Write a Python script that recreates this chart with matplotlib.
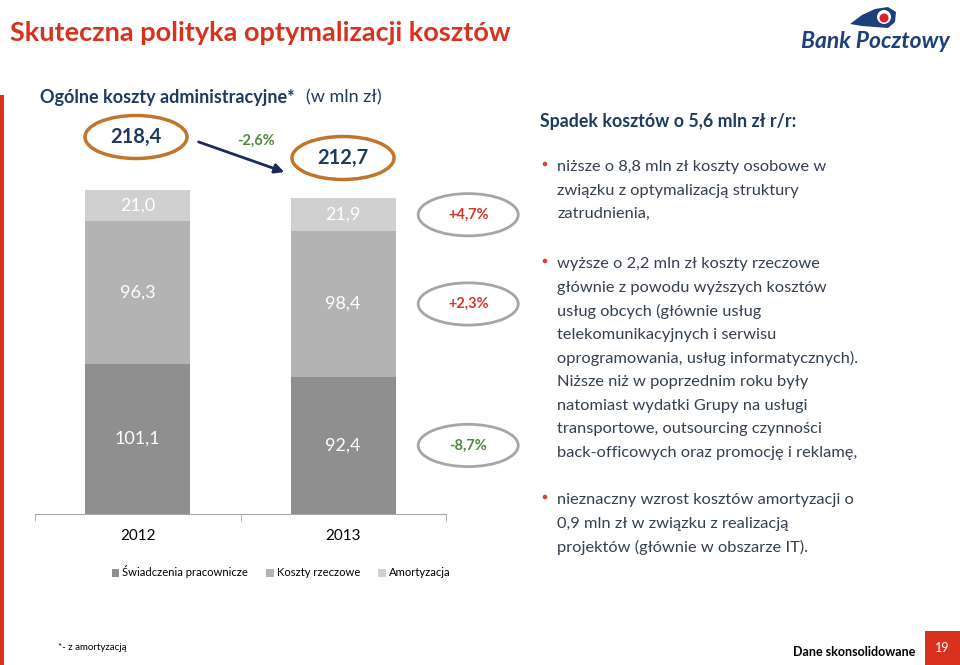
import matplotlib.pyplot as plt
from matplotlib.patches import Ellipse, Rectangle, Polygon, Circle, FancyArrowPatch
import numpy as np

plt.rcParams['font.family'] = ['Lato', 'DejaVu Sans']

years = ['2012', '2013']
swiadczenia = [101.1, 92.4]
rzeczowe = [96.3, 98.4]
amortyzacja = [21.0, 21.9]
sumy = ['218,4', '212,7']
zmiana_sumy = '-2,6%'
zmiany = ['-8,7%', '+2,3%', '+4,7%']  # od dołu
serie = ['Świadczenia pracownicze', 'Koszty rzeczowe', 'Amortyzacja']
kolory = ['#8f8f8f', '#b3b3b3', '#d0d0d0']

punkt1 = ['niższe o 8,8 mln zł koszty osobowe w',
          'związku z optymalizacją struktury',
          'zatrudnienia,']
punkt2 = ['wyższe o 2,2 mln zł koszty rzeczowe',
          'głównie z powodu wyższych kosztów',
          'usług obcych (głównie usług',
          'telekomunikacyjnych i serwisu',
          'oprogramowania, usług informatycznych).',
          'Niższe niż w poprzednim roku były',
          'natomiast wydatki Grupy na usługi',
          'transportowe, outsourcing czynności',
          'back-officowych oraz promocję i reklamę,']
punkt3 = ['nieznaczny wzrost kosztów amortyzacji o',
          '0,9 mln zł w związku z realizacją',
          'projektów (głównie w obszarze IT).']

W, H = 960, 665
czerwony = '#d8321f'
granat = '#1f3a5f'
tekst = '#34404f'

fig = plt.figure(figsize=(9.6, 6.65), dpi=100)
tlo = fig.add_axes([0, 0, 1, 1])
tlo.set_xlim(0, W)
tlo.set_ylim(H, 0)
tlo.axis('off')

# wykres słupkowy
ax = fig.add_axes([35 / W, 1 - 514 / H, 411 / W, 356 / H])
ax.patch.set_alpha(0)
x = np.arange(len(years))
dol = np.zeros(len(years))
for wart, kol, naz in zip([swiadczenia, rzeczowe, amortyzacja], kolory, serie):
    ax.bar(x, wart, 0.51, bottom=dol, color=kol, label=naz)
    for xi, d, v in zip(x, dol, wart):
        ax.text(xi, d + v / 2, f'{v:.1f}'.replace('.', ','), ha='center',
                va='center', color='white', fontsize=13)
    dol = dol + np.array(wart)

# zmiany procentowe obok 2013
d13 = 0
for wart, z in zip([swiadczenia, rzeczowe, amortyzacja], zmiany):
    yc = d13 + wart[1] / 2
    d13 += wart[1]
    ax.add_patch(Ellipse((1.608, yc), 0.487, 28.5, fill=False, ec='#a6a6a6',
                         lw=2, clip_on=False))
    ax.text(1.608, yc, z, ha='center', va='center', fontsize=10.5,
            fontweight='bold', color='#4f8a3c' if z.startswith('-') else '#d4372a')

ax.set_xlim(-0.5, 1.5)
ax.set_ylim(0, 240)
for s in ['top', 'left', 'right']:
    ax.spines[s].set_visible(False)
ax.spines['bottom'].set_color('#a6a6a6')
ax.set_yticks([])
ax.set_xticks(x)
ax.set_xticklabels(years, fontsize=11)
ax.tick_params(axis='x', which='major', length=0, pad=11)
ax.set_xticks([-0.5, 0.5, 1.5], minor=True)
ax.tick_params(axis='x', which='minor', length=5, color='#a6a6a6')
ax.legend(loc='center', bbox_to_anchor=(281 / W, 1 - 572 / H),
          bbox_transform=fig.transFigure, ncol=3, frameon=False, fontsize=8.1,
          handlelength=0.7, handleheight=0.7, handletextpad=0.25,
          columnspacing=1.6)

# sumy w owalach
for (cx, cy), s in zip([(136, 137), (343, 158)], sumy):
    tlo.add_patch(Ellipse((cx, cy), 102, 43, fill=False, ec='#c0752b', lw=2.5))
    tlo.text(cx, cy, s, ha='center', va='center', fontsize=14.5,
             fontweight='bold', color=granat)
tlo.add_patch(FancyArrowPatch((196, 141), (287, 173), arrowstyle='-|>',
                              mutation_scale=14, lw=2, color='#1c2b5a'))
tlo.text(256, 141, zmiana_sumy, ha='center', va='center', fontsize=10.5,
         fontweight='bold', color='#4f8a3c')

# nagłówki
tlo.text(10, 33, 'Skuteczna polityka optymalizacji kosztów', ha='left',
         va='center', fontsize=19.5, fontweight='bold', color=czerwony)
tlo.text(40, 97, 'Ogólne koszty administracyjne*', ha='left', va='center',
         fontsize=13, fontweight='bold', color=granat)
tlo.text(306, 97, '(w mln zł)', ha='left', va='center', fontsize=13,
         color=granat)
tlo.add_patch(Rectangle((0, 95), 3.5, H - 95, color=czerwony, lw=0))

# logo
tlo.add_patch(Polygon([(850, 24), (862, 15), (875, 9), (888, 7), (896, 12),
                       (895, 22), (888, 28), (875, 27), (862, 26)],
                      closed=True, color='#1d3f7a', lw=0))
tlo.add_patch(Circle((884, 17), 7, color='white', lw=0))
tlo.add_patch(Circle((884, 18), 4.5, color='#e0202a', lw=0))
tlo.text(875, 42, 'Bank Pocztowy', ha='center', va='center', fontsize=16.5,
         fontweight='bold', style='italic', color='#1d3f7a')

# tekst po prawej
tlo.text(540, 122, 'Spadek kosztów o 5,6 mln zł r/r:', ha='left', va='center',
         fontsize=12.8, fontweight='bold', color=granat)
for start, linie in zip([167, 264, 500], [punkt1, punkt2, punkt3]):
    tlo.add_patch(Circle((545, start - 3), 2.3, color='#d9423a', lw=0))
    for i, l in enumerate(linie):
        tlo.text(557, start + i * 23.6, l, ha='left', va='center',
                 fontsize=11.8, color=tekst)

# stopka
tlo.text(58, 647, '*- z amortyzacją', ha='left', va='center', fontsize=7,
         color='black')
tlo.text(915, 652, 'Dane skonsolidowane', ha='right', va='center',
         fontsize=9, fontweight='bold', color='black')
tlo.add_patch(Rectangle((925, 631), 35, 34, color=czerwony, lw=0))
tlo.text(942, 648, '19', ha='center', va='center', fontsize=9, color='white')

fig.savefig('out.png', dpi=100)
